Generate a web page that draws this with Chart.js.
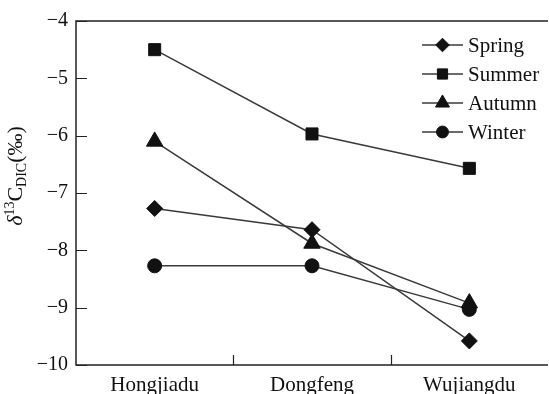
<!DOCTYPE html>
<html>
<head>
<meta charset="utf-8">
<script src="https://cdn.jsdelivr.net/npm/chart.js@4/dist/chart.umd.min.js"></script>
<style>
  html, body { margin: 0; padding: 0; background: #fff; overflow: hidden; }
  canvas { display: block; }
</style>
</head>
<body>
<canvas id="c" width="549" height="394"></canvas>
<script>
// Sampling sites along the river
const sites = ['Hongjiadu', 'Dongfeng', 'Wujiangdu'];

// δ13C of dissolved inorganic carbon (‰) per season
const spring = [-7.27, -7.64, -9.58];
const summer = [-4.50, -5.97, -6.57];
const autumn = [-6.10, -7.88, -8.92];
const winter = [-8.27, -8.27, -9.03];

const seasonNames = ['Spring', 'Summer', 'Autumn', 'Winter'];
const yTickValues = [-10, -9, -8, -7, -6, -5, -4];

const FONT = '"Liberation Serif", "Times New Roman", serif';
const INK = '#111';
const LINE = '#3a3a3a';

const markers = [
  { style: 'rectRot', radius: 8 },
  { style: 'rect', radius: 8.5 },
  { style: 'triangle', radius: 9.5 },
  { style: 'circle', radius: 7 }
];

const seriesList = [spring, summer, autumn, winter];
const datasets = seriesList.map((vals, i) => ({
  label: seasonNames[i],
  data: vals,
  borderColor: LINE,
  borderWidth: 1.5,
  backgroundColor: INK,
  pointStyle: markers[i].style,
  pointRadius: markers[i].radius,
  pointHoverRadius: markers[i].radius,
  pointBackgroundColor: INK,
  pointBorderColor: INK,
  pointBorderWidth: 1,
  tension: 0,
  fill: false,
  clip: false
}));

// Frame, inward ticks, legend and the axis title
const decorations = {
  id: 'decorations',
  afterDraw(chart) {
    const ctx = chart.ctx;
    const a = chart.chartArea;
    const xs = chart.scales.x;
    const ys = chart.scales.y;
    ctx.save();

    // frame: left, bottom and top edges
    ctx.strokeStyle = '#222';
    ctx.lineWidth = 1.5;
    ctx.beginPath();
    ctx.moveTo(a.right, a.top);
    ctx.lineTo(a.left, a.top);
    ctx.lineTo(a.left, a.bottom);
    ctx.lineTo(a.right, a.bottom);
    ctx.stroke();

    // inward ticks on the value axis
    ctx.lineWidth = 1.2;
    ctx.beginPath();
    yTickValues.forEach(v => {
      const py = Math.round(ys.getPixelForValue(v)) + 0.5;
      ctx.moveTo(a.left, py);
      ctx.lineTo(a.left + 11, py);
    });
    // inward ticks between sites
    for (let i = 1; i < sites.length; i++) {
      const px = Math.round((xs.getPixelForValue(i - 1) + xs.getPixelForValue(i)) / 2) + 0.5;
      ctx.moveTo(px, a.bottom);
      ctx.lineTo(px, a.bottom - 10);
    }
    ctx.stroke();

    // legend
    const lx0 = 422, lx1 = 463, tx = 468;
    const rowY = [45, 74, 103, 132];
    ctx.font = '21px ' + FONT;
    ctx.textBaseline = 'middle';
    ctx.textAlign = 'left';
    chart.data.datasets.forEach((ds, i) => {
      const y = rowY[i];
      ctx.strokeStyle = LINE;
      ctx.lineWidth = 1.5;
      ctx.beginPath();
      ctx.moveTo(lx0, y);
      ctx.lineTo(lx1, y);
      ctx.stroke();
      ctx.fillStyle = INK;
      ctx.strokeStyle = INK;
      ctx.lineWidth = 1;
      Chart.helpers.drawPoint(ctx, {
        pointStyle: ds.pointStyle,
        radius: ds.pointRadius * 0.85,
        borderWidth: 1,
        rotation: 0
      }, (lx0 + lx1) / 2, y);
      ctx.fillStyle = INK;
      ctx.fillText(ds.label, tx, y + 1);
    });

    // axis title: δ13C_DIC(‰), rotated
    ctx.translate(16, 176);
    ctx.rotate(-Math.PI / 2);
    ctx.fillStyle = INK;
    ctx.textBaseline = 'middle';
    const parts = [
      { t: 'δ', f: 'italic 22px ' + FONT, dy: 0 },
      { t: '13', f: '14px ' + FONT, dy: -6 },
      { t: 'C', f: '22px ' + FONT, dy: 0 },
      { t: 'DIC', f: '14px ' + FONT, dy: 6 },
      { t: '(‰)', f: '22px ' + FONT, dy: 0 }
    ];
    let total = 0;
    parts.forEach(p => { ctx.font = p.f; p.w = ctx.measureText(p.t).width; total += p.w; });
    let x = -total / 2;
    parts.forEach(p => {
      ctx.font = p.f;
      ctx.fillText(p.t, x, p.dy);
      x += p.w;
    });

    ctx.restore();
  }
};

new Chart(document.getElementById('c'), {
  type: 'line',
  data: { labels: sites, datasets },
  options: {
    responsive: false,
    animation: false,
    layout: { autoPadding: false, padding: { top: 21, right: 1, left: 0, bottom: 0 } },
    plugins: { legend: { display: false }, tooltip: { enabled: false } },
    scales: {
      x: {
        type: 'category',
        offset: true,
        grid: { display: false, drawTicks: false },
        border: { display: false },
        ticks: {
          color: INK,
          font: { family: FONT, size: 21 },
          padding: 8,
          maxRotation: 0
        },
        afterFit(scale) {
          scale.height = 29;
          scale.paddingLeft = 0;
          scale.paddingRight = 0;
        }
      },
      y: {
        min: -10,
        max: -4,
        grid: { display: false, drawTicks: false },
        border: { display: false },
        afterBuildTicks(scale) { scale.ticks = yTickValues.map(v => ({ value: v })); },
        ticks: {
          color: INK,
          font: { family: FONT, size: 20 },
          padding: 8,
          callback: v => String(v).replace('-', '\u2212')
        },
        afterFit(scale) {
          scale.width = 76;
          scale.paddingTop = 0;
          scale.paddingBottom = 0;
        }
      }
    }
  },
  plugins: [decorations]
});
</script>
</body>
</html>
